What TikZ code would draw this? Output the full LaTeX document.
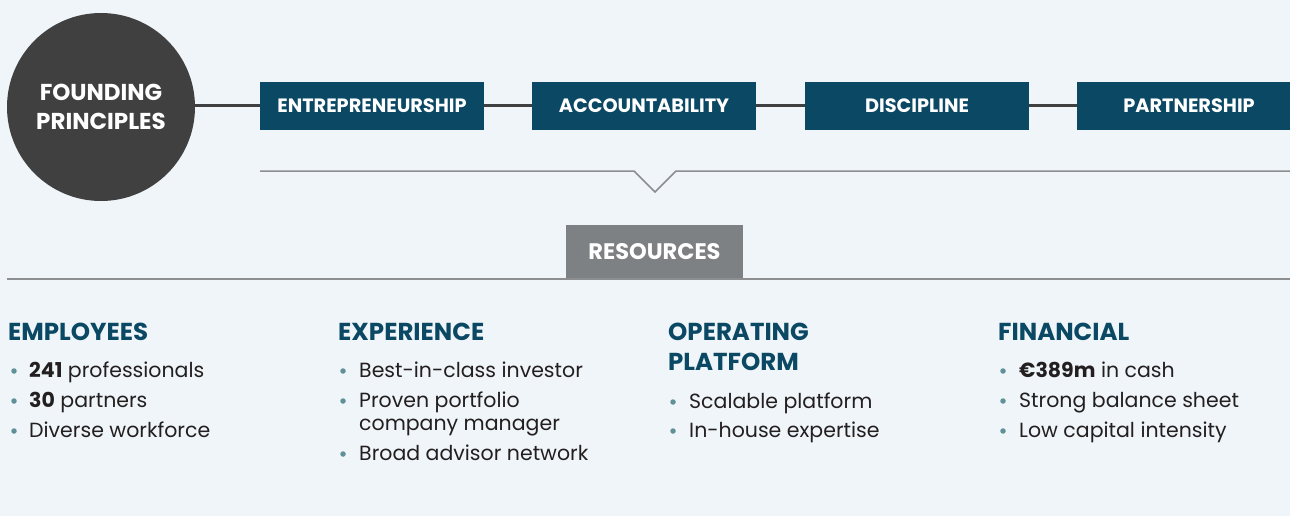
\documentclass[tikz,border=0pt]{standalone}
\usepackage{fontspec}
\setmainfont{Poppins}
\usetikzlibrary{positioning}
\definecolor{pagebg}{HTML}{EFF5F8}
\definecolor{principleblue}{HTML}{0A4864}
\definecolor{circlegray}{HTML}{404040}
\definecolor{rulegray}{HTML}{8C8E90}
\definecolor{resgray}{HTML}{7E8184}
\definecolor{bodytext}{HTML}{231F20}
\definecolor{dotteal}{HTML}{5E9198}

\begin{document}
\begin{tikzpicture}[
    x=1pt, y=-1pt,
    founding/.style={circle, fill=circlegray, text=white, minimum size=188pt, inner sep=0pt, align=center, font=\bfseries\fontsize{23}{29}\selectfont},
    principle/.style={rectangle, fill=principleblue, text=white, minimum width=224pt, minimum height=48pt, inner sep=0pt, font=\bfseries\fontsize{19.3}{22}\selectfont},
    resource/.style={rectangle, fill=resgray, text=white, minimum width=177pt, minimum height=54pt, inner sep=0pt, font=\bfseries\fontsize{22.5}{26}\selectfont},
    link/.style={line width=3pt, draw=circlegray},
    thinrule/.style={line width=1.5pt, draw=rulegray},
    heading/.style={anchor=base west, inner sep=0pt, text=principleblue, align=left, font=\bfseries\fontsize{24.5}{30}\selectfont},
    point/.style={anchor=base west, inner sep=0pt, text=bodytext, align=left, font=\fontsize{20.5}{23}\selectfont},
    dot/.style={circle, fill=dotteal, inner sep=0pt, minimum size=5.5pt}
]

% Fond
\fill[pagebg] (0,0) rectangle (1290,516);
\useasboundingbox (0,0) rectangle (1290,516);
\clip (0,0) rectangle (1290,516);

% Principes fondateurs (ligne du haut)
\node[founding] (found) at (101,107) {FOUNDING\\PRINCIPLES};
\node[principle] (entre) at (372,106) {ENTREPRENEURSHIP};
\node[principle] (account) at (644,106) {ACCOUNTABILITY};
\node[principle] (discip) at (917,106) {DISCIPLINE};
\node[principle] (partner) at (1189,106) {PARTNERSHIP};

% Liaisons
\draw[link] (found.east |- entre.west) -- (entre.west);
\draw[link] (entre) -- (account);
\draw[link] (account) -- (discip);
\draw[link] (discip) -- (partner);

% Ligne avec encoche
\coordinate (notchstart) at (260,171);
\coordinate (notchend) at (1290,171);
\draw[thinrule] (notchstart) -- (634,171) -- (655,192) -- (676,171) -- (notchend);

% Ressources
\node[resource] (res) at (654.5,252) {RESOURCES};
\coordinate (resleft) at (7,279);
\coordinate (resright) at (1290,279);
\draw[thinrule] (resleft) -- (resright);

% Colonne 1
\node[heading] (employees) at (8,340) {EMPLOYEES};
\node[dot] (e1dot) at (14,371) {};
\node[point] (e1) at (29,377) {\textbf{241} professionals};
\node[dot] (e2dot) at (14,401) {};
\node[point] (e2) at (29,407) {\textbf{30} partners};
\node[dot] (e3dot) at (14,431) {};
\node[point] (e3) at (29,437) {Diverse workforce};

% Colonne 2 (base = derniere ligne)
\node[heading] (experience) at (338,340) {EXPERIENCE};
\node[dot] (x1dot) at (343,371) {};
\node[point] (x1) at (359,377) {Best-in-class investor};
\node[dot] (x2dot) at (343,401) {};
\node[point] (x2) at (359,430) {Proven portfolio\\company manager};
\node[dot] (x3dot) at (343,454) {};
\node[point] (x3) at (359,460) {Broad advisor network};

% Colonne 3
\node[heading] (operating) at (668,370) {OPERATING\\PLATFORM};
\node[dot] (o1dot) at (673,402) {};
\node[point] (o1) at (689,408) {Scalable platform};
\node[dot] (o2dot) at (673,431) {};
\node[point] (o2) at (689,437) {In-house expertise};

% Colonne 4
\node[heading] (financial) at (998,340) {FINANCIAL};
\node[dot] (f1dot) at (1003,371) {};
\node[point] (f1) at (1019,377) {\textbf{€389m} in cash};
\node[dot] (f2dot) at (1003,401) {};
\node[point] (f2) at (1019,407) {Strong balance sheet};
\node[dot] (f3dot) at (1003,431) {};
\node[point] (f3) at (1019,437) {Low capital intensity};

\end{tikzpicture}
\end{document}
